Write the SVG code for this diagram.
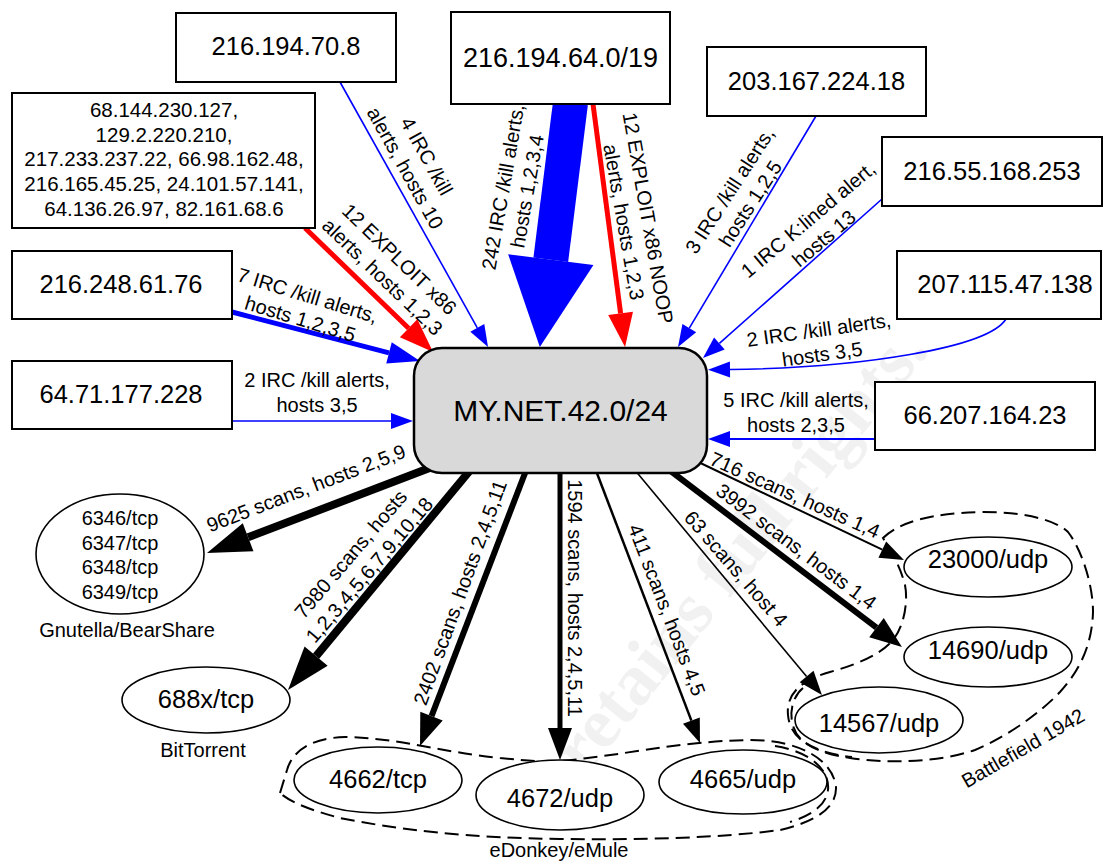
<svg xmlns="http://www.w3.org/2000/svg" width="1104" height="863" viewBox="0 0 1104 863">
<defs>
<style>
text{font-family:"Liberation Sans",Arial,sans-serif;fill:#000}
.box{fill:#fff;stroke:#000;stroke-width:2}
.ell{fill:#fff;stroke:#000;stroke-width:1.6}
.ip{font-size:25.5px;text-anchor:middle}
.port{font-size:25.5px;text-anchor:middle}
.lbl{font-size:20px;text-anchor:middle}
.el{font-size:20px;text-anchor:middle}
.grp{fill:none;stroke:#000;stroke-width:2;stroke-dasharray:14 7}
.b{fill:none;stroke:#00f}
.r{fill:none;stroke:#f00}
.k{fill:none;stroke:#000}
.wm{font-family:"Liberation Serif",serif;font-weight:bold;font-size:72px;fill:#f1f1f1;text-anchor:middle}
</style>
<marker id="hBlueS" markerUnits="userSpaceOnUse" markerWidth="22" markerHeight="16" viewBox="0 -8 22 16" refX="0" refY="0" orient="auto" overflow="visible"><path d="M0,-8L22,0L0,8Z" fill="#00f"/></marker>
<marker id="hBlueM" markerUnits="userSpaceOnUse" markerWidth="32" markerHeight="22" viewBox="0 -11 32 22" refX="0" refY="0" orient="auto" overflow="visible"><path d="M0,-11L32,0L0,11Z" fill="#00f"/></marker>
<marker id="hBlueXL" markerUnits="userSpaceOnUse" markerWidth="88" markerHeight="86" viewBox="0 -43 88 86" refX="0" refY="0" orient="auto" overflow="visible"><path d="M0,-43L88,0L0,43Z" fill="#00f"/></marker>
<marker id="hRed" markerUnits="userSpaceOnUse" markerWidth="34" markerHeight="25" viewBox="0 -12.5 34 25" refX="0" refY="0" orient="auto" overflow="visible"><path d="M0,-12.5L34,0L0,12.5Z" fill="#f00"/></marker>
<marker id="hBlkXL" markerUnits="userSpaceOnUse" markerWidth="44" markerHeight="30" viewBox="0 -15 44 30" refX="0" refY="0" orient="auto" overflow="visible"><path d="M0,-15L44,0L0,15Z" fill="#000"/></marker>
<marker id="hBlkL" markerUnits="userSpaceOnUse" markerWidth="32" markerHeight="24" viewBox="0 -12 32 24" refX="0" refY="0" orient="auto" overflow="visible"><path d="M0,-12L32,0L0,12Z" fill="#000"/></marker>
<marker id="hBlkS" markerUnits="userSpaceOnUse" markerWidth="24" markerHeight="18" viewBox="0 -9 24 18" refX="0" refY="0" orient="auto" overflow="visible"><path d="M0,-9L24,0L0,9Z" fill="#000"/></marker>
</defs>

<text class="wm" transform="translate(742,583) rotate(-51)">r retains full rights.</text>

<g id="groups">
<path class="grp" d="M280,793 L287,770 C292,752 310,738 345,737 C400,738 440,752 500,758 C530,761 545,762 560,761 C620,756 680,741 750,740 C800,740 833,760 836,787 C837,808 815,822 780,830 C720,838 640,840 560,839 C470,838 400,830 340,818 C310,810 290,802 280,793 Z"/>
<path class="grp" d="M775,746 C812,752 830,771 828,790 C826,806 810,816 790,822"/>
<text class="el" x="559" y="857">eDonkey/eMule</text>
<path class="grp" d="M883,538 C900,522 930,513 983,512 C1030,512 1058,522 1068,532 C1082,550 1093,585 1093,612 C1092,645 1080,670 1060,692 C1040,713 1008,736 975,750 C940,762 890,764 850,758 C815,753 790,740 788,715 C786,695 800,680 830,672 C858,664 880,655 893,640 C905,625 908,600 905,585 C900,565 890,550 883,538 Z"/>
<path class="grp" d="M803,688 C788,700 787,728 803,741 C815,750 833,755 852,757"/>
<text class="el" transform="translate(1023,748) rotate(-30)" y="7">Battlefield 1942</text>
</g>

<g id="connectors">
<line class="b" stroke-width="1.6" x1="340" y1="82" x2="477.3" y2="327.8" marker-end="url(#hBlueS)"/>
<text class="lbl" transform="translate(416,162) rotate(61)"><tspan x="0" y="-5.25">4 IRC /kill</tspan><tspan x="0" y="19.25">alerts, hosts 10</tspan></text>

<line class="r" stroke-width="5" x1="305" y1="228" x2="408.6" y2="328.3" marker-end="url(#hRed)"/>
<text class="lbl" transform="translate(391,268) rotate(44)"><tspan x="0" y="-5.25">12 EXPLOIT x86</tspan><tspan x="0" y="19.25">alerts, hosts 1,2,3</tspan></text>

<line class="b" stroke-width="5" x1="232" y1="312" x2="389" y2="352.9" marker-end="url(#hBlueM)"/>
<text class="lbl" transform="translate(304,307) rotate(17)"><tspan x="0" y="-5.25">7 IRC /kill alerts,</tspan><tspan x="0" y="19.25">hosts 1,2,3,5</tspan></text>

<line class="b" stroke-width="1.6" x1="232" y1="421" x2="391" y2="421" marker-end="url(#hBlueS)"/>
<text class="lbl"><tspan x="317" y="387">2 IRC /kill alerts,</tspan><tspan x="317" y="412">hosts 3,5</tspan></text>

<line class="b" stroke-width="35" x1="570.5" y1="103" x2="550.8" y2="259.7" marker-end="url(#hBlueXL)"/>
<text class="lbl" transform="translate(515,189) rotate(-80)"><tspan x="0" y="-5.25">242 IRC /kill alerts,</tspan><tspan x="0" y="19.25">hosts 1,2,3,4</tspan></text>

<line class="r" stroke-width="5" x1="593" y1="104" x2="620.6" y2="313.3" marker-end="url(#hRed)"/>
<text class="lbl" transform="translate(636,220) rotate(80)"><tspan x="0" y="-5.25">12 EXPLOIT x86 NOOP</tspan><tspan x="0" y="19.25">alerts, hosts 1,2,3</tspan></text>

<line class="b" stroke-width="1.6" x1="816" y1="116" x2="689.3" y2="328.1" marker-end="url(#hBlueS)"/>
<text class="lbl" transform="translate(740,197) rotate(-57)"><tspan x="0" y="-5.25">3 IRC /kill alerts,</tspan><tspan x="0" y="19.25">hosts 1,2,5</tspan></text>

<line class="b" stroke-width="1.6" x1="882" y1="199" x2="719.4" y2="343.4" marker-end="url(#hBlueS)"/>
<text class="lbl" transform="translate(816,229) rotate(-40)"><tspan x="0" y="-5.25">1 IRC K:lined alert,</tspan><tspan x="0" y="19.25">hosts 13</tspan></text>

<path class="b" stroke-width="1.6" d="M1006,319 C988,348 860,368 730,369.5" marker-end="url(#hBlueS)"/>
<text class="lbl" transform="translate(820.5,342) rotate(-8)"><tspan x="0" y="-5.25">2 IRC /kill alerts,</tspan><tspan x="0" y="19.25">hosts 3,5</tspan></text>

<line class="b" stroke-width="1.8" x1="875" y1="439" x2="730" y2="439" marker-end="url(#hBlueS)"/>
<text class="lbl"><tspan x="796" y="407">5 IRC /kill alerts,</tspan><tspan x="796" y="432">hosts 2,3,5</tspan></text>

<line class="k" stroke-width="8" x1="440" y1="464" x2="248.1" y2="537.3" marker-end="url(#hBlkXL)"/>
<text class="lbl" transform="translate(306,488) rotate(-21)" y="7">9625 scans, hosts 2,5,9</text>

<line class="k" stroke-width="8" x1="472" y1="468" x2="316.1" y2="656.1" marker-end="url(#hBlkXL)"/>
<text class="lbl" transform="translate(360,562) rotate(-49.5)"><tspan x="0" y="-5.25">7980 scans, hosts</tspan><tspan x="0" y="19.25">1,2,3,4,5,6,7,9,10,18</tspan></text>

<line class="k" stroke-width="6" x1="527" y1="468" x2="431.5" y2="716.1" marker-end="url(#hBlkL)"/>
<text class="lbl" transform="translate(460,592.5) rotate(-70)" y="7">2402 scans, hosts 2,4,5,11</text>

<line class="k" stroke-width="5" x1="560" y1="468" x2="560" y2="728" marker-end="url(#hBlkL)"/>
<text class="lbl" transform="translate(575,598) rotate(90)" y="7">1594 scans, hosts 2,4,5,11</text>

<line class="k" stroke-width="2.5" x1="595" y1="468" x2="691.4" y2="720.6" marker-end="url(#hBlkS)"/>
<text class="lbl" transform="translate(667,610) rotate(69)" y="7">411 scans, hosts 4,5</text>

<line class="k" stroke-width="1.6" x1="634" y1="469" x2="806.6" y2="676.6" marker-end="url(#hBlkS)"/>
<text class="lbl" transform="translate(736,568.5) rotate(49)" y="7">63 scans, host 4</text>

<line class="k" stroke-width="6" x1="668" y1="469" x2="876.5" y2="627.6" marker-end="url(#hBlkL)"/>
<text class="lbl" transform="translate(796.5,546.5) rotate(37)" y="7">3992 scans, hosts 1,4</text>

<line class="k" stroke-width="2" x1="692" y1="459" x2="882.3" y2="549.7" marker-end="url(#hBlkS)"/>
<text class="lbl" transform="translate(795,495) rotate(24)" y="7">716 scans, hosts 1,4</text>
</g>

<g id="node-216-194-70-8"><rect class="box" x="176" y="13" width="220" height="69"/><text class="ip" x="286" y="55">216.194.70.8</text></g>
<g id="node-multi">
<rect class="box" x="12" y="93" width="303" height="135"/>
<text style="font-size:20.5px;text-anchor:middle"><tspan x="164" y="117">68.144.230.127,</tspan><tspan x="164" y="141.7">129.2.220.210,</tspan><tspan x="164" y="166.4">217.233.237.22, 66.98.162.48,</tspan><tspan x="164" y="191.1">216.165.45.25, 24.101.57.141,</tspan><tspan x="164" y="215.8">64.136.26.97, 82.161.68.6</tspan></text>
</g>
<g id="node-216-248-61-76"><rect class="box" x="12" y="251" width="220" height="68"/><text class="ip" x="121" y="293">216.248.61.76</text></g>
<g id="node-64-71-177-228"><rect class="box" x="12" y="361" width="220" height="68"/><text class="ip" x="121" y="403">64.71.177.228</text></g>
<g id="node-216-194-64-0"><rect class="box" x="451" y="12" width="219" height="92"/><text class="ip" style="font-size:27px" x="560.5" y="67">216.194.64.0/19</text></g>
<g id="node-203-167-224-18"><rect class="box" x="707" y="47" width="219" height="69"/><text class="ip" x="816.5" y="90">203.167.224.18</text></g>
<g id="node-216-55-168-253"><rect class="box" x="882" y="137" width="220" height="69"/><text class="ip" x="992" y="180">216.55.168.253</text></g>
<g id="node-207-115-47-138"><rect class="box" x="897" y="251" width="204" height="68"/><text class="ip" x="1005" y="293">207.115.47.138</text></g>
<g id="node-66-207-164-23"><rect class="box" x="875" y="382" width="220" height="68"/><text class="ip" x="985" y="424">66.207.164.23</text></g>

<g id="node-mynet"><rect x="414" y="348" width="293" height="125" rx="28" ry="28" fill="#d9d9d9" stroke="#000" stroke-width="2.5"/><text x="560.5" y="421" style="font-size:30px;text-anchor:middle">MY.NET.42.0/24</text></g>

<g id="node-gnutella"><ellipse class="ell" cx="120" cy="554" rx="84" ry="60"/><text style="font-size:20px;text-anchor:middle"><tspan x="120" y="525">6346/tcp</tspan><tspan x="120" y="549.5">6347/tcp</tspan><tspan x="120" y="574">6348/tcp</tspan><tspan x="120" y="598.5">6349/tcp</tspan></text><text class="el" x="127" y="637">Gnutella/BearShare</text></g>
<g id="node-688x"><ellipse class="ell" cx="206" cy="700" rx="84" ry="33"/><text class="port" x="206" y="708">688x/tcp</text><text class="el" x="203" y="757">BitTorrent</text></g>
<g id="node-4662"><ellipse class="ell" cx="378" cy="780" rx="84" ry="33"/><text class="port" x="378" y="788">4662/tcp</text></g>
<g id="node-4672"><ellipse class="ell" cx="560" cy="795" rx="84" ry="35"/><text class="port" x="560" y="807">4672/udp</text></g>
<g id="node-4665"><ellipse class="ell" cx="743" cy="782" rx="84" ry="32"/><text class="port" x="743" y="788">4665/udp</text></g>
<g id="node-23000"><ellipse class="ell" cx="988" cy="567" rx="84" ry="30"/><text class="port" x="988" y="568">23000/udp</text></g>
<g id="node-14690"><ellipse class="ell" cx="988" cy="657" rx="84" ry="30"/><text class="port" x="988" y="659">14690/udp</text></g>
<g id="node-14567"><ellipse class="ell" cx="879" cy="720" rx="84" ry="33"/><text class="port" x="879" y="732">14567/udp</text></g>
</svg>
